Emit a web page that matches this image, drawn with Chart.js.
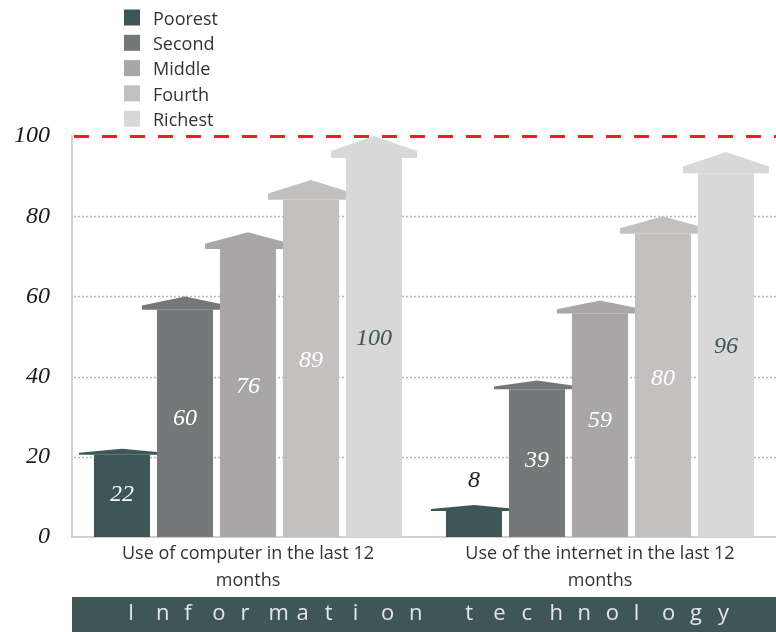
<!DOCTYPE html>
<html>
<head>
<meta charset="utf-8">
<script src="https://cdn.jsdelivr.net/npm/chart.js@4"></script>
<style>
  html, body { margin: 0; padding: 0; background: #fff; }
  #wrap { width: 776px; height: 632px; }
</style>
</head>
<body>
<div id="wrap"><canvas id="chart" width="776" height="632"></canvas></div>
<script>
const categories = [
  ['Use of computer in the last 12', 'months'],
  ['Use of the internet in the last 12', 'months']
];
const groups = ['Poorest', 'Second', 'Middle', 'Fourth', 'Richest'];
const poorest = [22, 8];
const second = [60, 39];
const middle = [76, 59];
const fourth = [89, 80];
const richest = [100, 96];
const yTicks = [0, 20, 40, 60, 80, 100];

const colors = ['#3e5657', '#747878', '#a8a6a6', '#c4c0c0', '#d9d8d8'];
const labelColors = ['#ffffff', '#ffffff', '#ffffff', '#ffffff', '#3e5657'];
const serif = '"Liberation Serif", "DejaVu Serif", serif';
const sans = '"Open Sans", Lato, sans-serif';

// arrow shaped bars, grid, legend and banner
const arrowPlugin = {
  id: 'arrows',
  beforeDatasetsDraw(chart) {
    const ctx = chart.ctx;
    const y = chart.scales.y;
    const area = chart.chartArea;
    ctx.save();
    yTicks.forEach(v => {
      if (v === 0) return;
      const py = Math.round(y.getPixelForValue(v)) + 0.5;
      ctx.beginPath();
      if (v === 100) {
        ctx.strokeStyle = '#e8202a';
        ctx.lineWidth = 3;
        ctx.setLineDash([15, 13]);
      } else {
        ctx.strokeStyle = '#b8b8b8';
        ctx.lineWidth = 1.5;
        ctx.setLineDash([2, 2]);
      }
      ctx.moveTo(area.left + 2, py);
      ctx.lineTo(area.right, py);
      ctx.stroke();
    });
    ctx.restore();
  },
  beforeDatasetDraw() {
    return false;
  },
  afterDatasetsDraw(chart) {
    const ctx = chart.ctx;
    ctx.save();
    chart.data.datasets.forEach((ds, i) => {
      const meta = chart.getDatasetMeta(i);
      meta.data.forEach(bar => {
        const half = bar.width / 2;
        const h = bar.base - bar.y;
        const head = Math.max(6, h * 0.055);
        const tri = head * 0.68;
        const wing = 15;
        ctx.fillStyle = ds.backgroundColor;
        ctx.fillRect(bar.x - half, bar.y + head, bar.width, bar.base - bar.y - head);
        ctx.beginPath();
        ctx.moveTo(bar.x - half - wing, bar.y + head);
        ctx.lineTo(bar.x + half + wing, bar.y + head);
        ctx.lineTo(bar.x + half + wing, bar.y + tri);
        ctx.lineTo(bar.x, bar.y);
        ctx.lineTo(bar.x - half - wing, bar.y + tri);
        ctx.closePath();
        ctx.fill();
      });
    });
    // value labels
    ctx.font = 'italic 24px ' + serif;
    ctx.textAlign = 'center';
    ctx.textBaseline = 'middle';
    chart.data.datasets.forEach((ds, i) => {
      const meta = chart.getDatasetMeta(i);
      meta.data.forEach((bar, j) => {
        const v = ds.data[j];
        const h = bar.base - bar.y;
        if (h < 60) {
          ctx.fillStyle = '#1a1a1a';
          ctx.fillText(String(v), bar.x, bar.y - 24);
        } else {
          ctx.fillStyle = labelColors[i];
          ctx.fillText(String(v), bar.x, (bar.base + bar.y) / 2 + 2);
        }
      });
    });
    ctx.restore();
  },
  afterDraw(chart) {
    const ctx = chart.ctx;
    const area = chart.chartArea;
    ctx.save();
    // legend
    ctx.font = '18px ' + sans;
    ctx.textBaseline = 'middle';
    ctx.textAlign = 'left';
    chart.data.datasets.forEach((ds, i) => {
      const cy = 17.5 + i * 25.3;
      ctx.fillStyle = ds.backgroundColor;
      ctx.fillRect(124, cy - 8, 16, 16);
      ctx.fillStyle = '#333333';
      ctx.fillText(ds.label, 153, cy + 2);
    });
    // banner
    ctx.fillStyle = '#3e5657';
    ctx.fillRect(area.left, 597, area.right - area.left, 35);
    ctx.fillStyle = '#e6e6e6';
    ctx.font = '22px ' + sans;
    const title = 'Information technology';
    let x = 128;
    for (const ch of title) {
      ctx.fillText(ch, x, 614);
      x += 28.1;
    }
    ctx.restore();
  }
};

new Chart(document.getElementById('chart'), {
  type: 'bar',
  data: {
    labels: categories,
    datasets: [
      { label: groups[0], data: poorest, backgroundColor: colors[0] },
      { label: groups[1], data: second, backgroundColor: colors[1] },
      { label: groups[2], data: middle, backgroundColor: colors[2] },
      { label: groups[3], data: fourth, backgroundColor: colors[3] },
      { label: groups[4], data: richest, backgroundColor: colors[4] }
    ]
  },
  options: {
    responsive: false,
    animation: false,
    devicePixelRatio: 1,
    categoryPercentage: 0.895,
    barPercentage: 0.89,
    layout: { padding: { top: 136, right: 0, left: 0, bottom: 0 } },
    plugins: {
      legend: { display: false },
      tooltip: { enabled: false }
    },
    scales: {
      x: {
        afterFit(scale) { scale.height = 95; },
        grid: { display: false, drawTicks: false },
        border: { color: '#d0d0d0', width: 2 },
        ticks: {
          color: '#333333',
          padding: 3,
          maxRotation: 0,
          autoSkip: false,
          font: { family: sans, size: 18, lineHeight: 1.5 }
        }
      },
      y: {
        min: 0,
        max: 100,
        afterFit(scale) { scale.width = 72; },
        grid: { display: false, drawTicks: false },
        border: { color: '#d0d0d0', width: 2 },
        ticks: {
          stepSize: 20,
          padding: 22,
          color: '#1a1a1a',
          font: { family: serif, size: 24, style: 'italic' }
        }
      }
    }
  },
  plugins: [arrowPlugin]
});
</script>
</body>
</html>
